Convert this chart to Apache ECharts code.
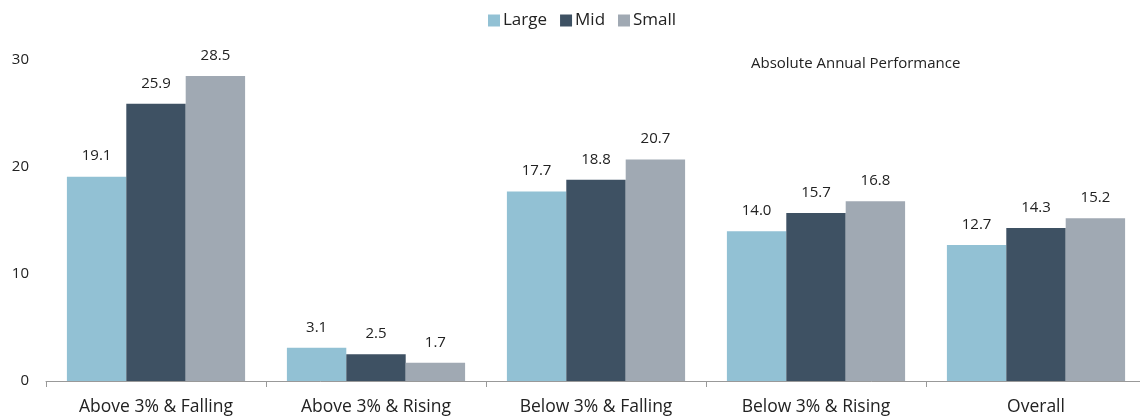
<!DOCTYPE html>
<html>
<head>
<meta charset="utf-8">
<script src="https://cdn.jsdelivr.net/npm/echarts@6/dist/echarts.min.js"></script>
<style>
  html, body { margin: 0; padding: 0; background: #fff; overflow: hidden; }
  /* slightly wider than the window: the last category runs past the right edge */
  #chart { width: 1146px; height: 418px; }
</style>
</head>
<body>
<div id="chart"></div>
<script>
// categories and values
const categories = ['Above 3% & Falling', 'Above 3% & Rising', 'Below 3% & Falling', 'Below 3% & Rising', 'Overall']
const large = [19.1, 3.1, 17.7, 14.0, 12.7]
const mid = [25.9, 2.5, 18.8, 15.7, 14.3]
const small = [28.5, 1.7, 20.7, 16.8, 15.2]
const yTicks = [0, 10, 20, 30]

const colors = { Large: '#92c1d4', Mid: '#3e5163', Small: '#a0a9b3' }
const font = '"Open Sans", "Noto Sans", sans-serif'

const makeSeries = (name, data) => ({
  name,
  type: 'bar',
  data,
  barGap: 0,
  barCategoryGap: '19%',
  itemStyle: { color: colors[name] },
  label: {
    show: true,
    position: 'top',
    distance: 13,
    formatter: p => p.value.toFixed(1),
    color: '#222',
    fontFamily: font,
    fontSize: 15
  }
})

const myChart = echarts.init(document.getElementById('chart'))

const option = {
  animation: false,
  textStyle: { fontFamily: font },
  legend: {
    top: 7,
    left: 483,
    itemWidth: 12,
    itemHeight: 12,
    itemGap: 13,
    icon: 'rect',
    textStyle: { color: '#222', fontSize: 17, fontFamily: font, padding: [0, 0, 0, -2] }
  },
  title: {
    text: 'Absolute Annual Performance',
    left: 746,
    top: 51,
    textStyle: { color: '#222', fontSize: 15, fontWeight: 'normal', fontFamily: font }
  },
  grid: { left: 46, right: 0, top: 60, bottom: 37, containLabel: false },
  xAxis: {
    type: 'category',
    data: categories,
    axisLine: { lineStyle: { color: '#999' } },
    axisTick: { show: true, length: 6, lineStyle: { color: '#999' } },
    axisLabel: { color: '#222', fontSize: 17.5, margin: 17, fontFamily: font }
  },
  yAxis: {
    type: 'value',
    min: yTicks[0],
    max: yTicks[yTicks.length - 1],
    interval: 10,
    axisLine: { show: false },
    axisTick: { show: false },
    splitLine: { show: false },
    axisLabel: { color: '#222', fontSize: 15, margin: 17, fontFamily: font }
  },
  series: [
    makeSeries('Large', large),
    makeSeries('Mid', mid),
    makeSeries('Small', small)
  ]
}

myChart.setOption(option)
</script>
</body>
</html>
